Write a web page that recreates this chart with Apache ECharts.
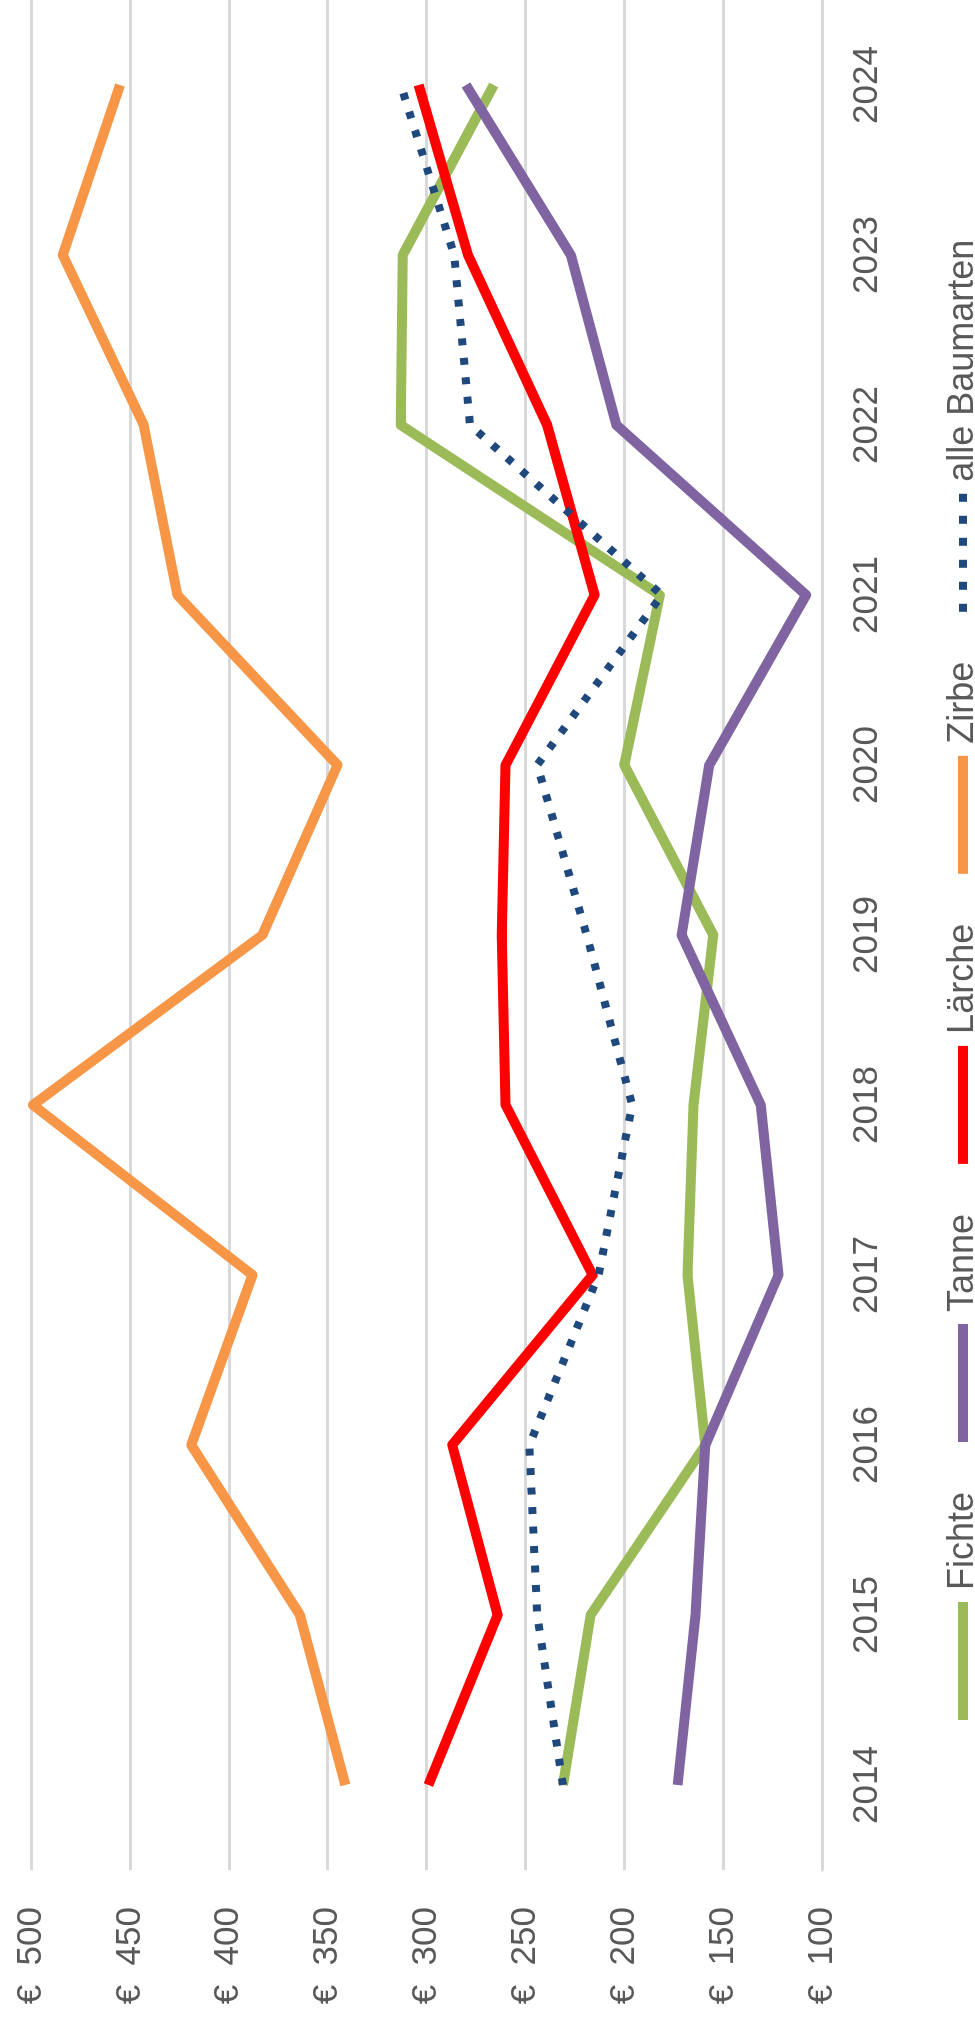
<!DOCTYPE html>
<html>
<head>
<meta charset="utf-8">
<script src="https://cdn.jsdelivr.net/npm/echarts@6/dist/echarts.min.js"></script>
<style>
  html, body { margin: 0; padding: 0; background: #fff; overflow: hidden; }
  body { width: 975px; height: 2021px; position: relative; }
  /* chart is drawn landscape, then turned 90deg counter-clockwise */
  #chart {
    position: absolute; left: 0; top: 0;
    width: 2021px; height: 975px;
    transform-origin: 0 0;
    transform: translate(0, 2021px) rotate(-90deg);
  }
</style>
</head>
<body>
<div id="chart"></div>
<script>
  const years = ['2014', '2015', '2016', '2017', '2018', '2019', '2020', '2021', '2022', '2023', '2024'];
  const fichte = [231, 217, 159, 168, 165, 155, 200, 182, 313, 312, 266];
  const tanne = [173, 164, 159, 122, 131, 171, 157, 108, 204, 227, 280];
  const laerche = [299, 264, 287, 216, 260, 262, 260, 215, 239, 279, 304];
  const zirbe = [341, 364, 419, 388, 499, 383, 345, 426, 443, 484, 455];
  const alle = [231, 244, 248, 213, 196, 219, 244, 181, 278, 286, 313];

  const labelColor = '#595959';
  const gridColor = '#D9D9D9';
  const font = '"Liberation Sans", Arial, sans-serif';
  // six little squares for the dotted legend key
  const dotIcon = 'path://M0,0h8v8h-8zM22,0h8v8h-8zM44,0h8v8h-8zM66,0h8v8h-8zM88,0h8v8h-8zM110,0h8v8h-8z';

  function line(name, data, color, extra) {
    return {
      name: name,
      type: 'line',
      data: data,
      symbol: 'none',
      animation: false,
      lineStyle: Object.assign({ color: color, width: 10, join: 'round' }, extra || {}),
      itemStyle: { color: color }
    };
  }

  var chart = echarts.init(document.getElementById('chart'));
  var option = {
    animation: false,
    textStyle: { fontFamily: font },
    grid: { left: 151, right: -3, top: 31, bottom: 153 },
    legend: {
      left: 296,
      top: 940,
      itemWidth: 118,
      itemHeight: 10,
      itemGap: 50,
      textStyle: { fontSize: 36, color: labelColor, fontFamily: font, padding: [0, 0, 0, 7] },
      data: [
        { name: 'Fichte', icon: 'rect' },
        { name: 'Tanne', icon: 'rect' },
        { name: 'Lärche', icon: 'rect' },
        { name: 'Zirbe', icon: 'rect' },
        { name: 'alle Baumarten', icon: dotIcon }
      ]
    },
    xAxis: {
      type: 'category',
      data: years,
      boundaryGap: true,
      axisLine: { show: true, lineStyle: { color: gridColor, width: 3 } },
      axisTick: { show: false },
      axisLabel: { fontSize: 35, color: labelColor, margin: 28, fontFamily: font }
    },
    yAxis: {
      type: 'value',
      min: 100,
      max: 500,
      interval: 50,
      axisLine: { show: false },
      axisTick: { show: false },
      splitLine: { lineStyle: { color: gridColor, width: 3 } },
      axisLabel: {
        fontSize: 35, color: labelColor, margin: 37, fontFamily: font,
        formatter: function (v) { return '€\u00a0\u00a0' + v; }
      }
    },
    series: [
      line('Fichte', fichte, '#9BBB59'),
      line('Tanne', tanne, '#8064A2'),
      line('Lärche', laerche, '#FF0000'),
      line('Zirbe', zirbe, '#F79646'),
      line('alle Baumarten', alle, '#1F497D', { width: 8, type: [7, 12.5], cap: 'butt' })
    ]
  };
  chart.setOption(option);
</script>
</body>
</html>
